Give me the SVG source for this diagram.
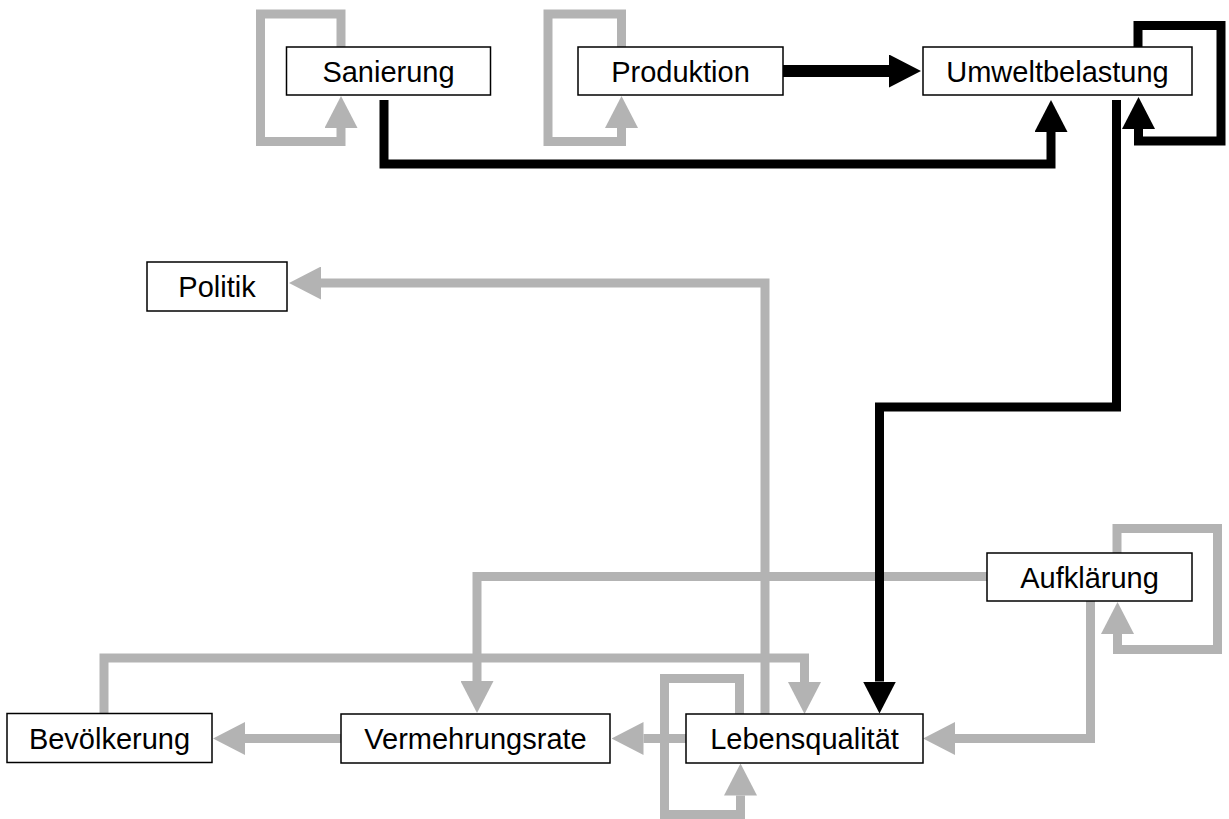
<svg xmlns="http://www.w3.org/2000/svg" width="1229" height="819" viewBox="0 0 1229 819">
  <style>
    .box { fill: #ffffff; stroke: #000000; stroke-width: 1.5; }
    .label { font-family: "Liberation Sans", Arial, sans-serif; font-size: 29px; fill: #000000; text-anchor: middle; }
    .gray { fill: none; stroke: #b3b3b3; stroke-width: 9; stroke-linejoin: miter; stroke-linecap: butt; }
    .black { fill: none; stroke: #000000; stroke-width: 9; stroke-linejoin: miter; stroke-linecap: butt; }
    .thick { stroke-width: 12; }
  </style>
  <defs>
    <marker id="arrow-gray" viewBox="0 0 32 33" markerWidth="32" markerHeight="33" refX="0" refY="16.5" orient="auto" markerUnits="userSpaceOnUse">
      <path d="M0,0 L32,16.5 L0,33 Z" fill="#b3b3b3"/>
    </marker>
    <marker id="arrow-black" viewBox="0 0 32 33" markerWidth="32" markerHeight="33" refX="0" refY="16.5" orient="auto" markerUnits="userSpaceOnUse">
      <path d="M0,0 L32,16.5 L0,33 Z" fill="#000000"/>
    </marker>
  </defs>
  <rect width="1229" height="819" fill="#ffffff"/>

  <g id="connectors">
    <!-- gray links -->
    <path class="gray" d="M341,47 V14 H260.5 V141.5 H341 V128" marker-end="url(#arrow-gray)"/>
    <path class="gray" d="M621.5,47 V14 H548 V141.5 H621.5 V128" marker-end="url(#arrow-gray)"/>
    <path class="gray" d="M765,714 V283 H321" marker-end="url(#arrow-gray)"/>
    <path class="gray" d="M987,576.5 H477 V681" marker-end="url(#arrow-gray)"/>
    <path class="gray" d="M104,713 V658 H804.5 V682" marker-end="url(#arrow-gray)"/>
    <path class="gray" d="M739.5,714 V678.5 H664.5 V814.5 H740.5 V795.5" marker-end="url(#arrow-gray)"/>
    <path class="gray" d="M686,738.5 H643.5" marker-end="url(#arrow-gray)"/>
    <path class="gray" d="M341,738.5 H245" marker-end="url(#arrow-gray)"/>
    <path class="gray" d="M1090.5,601 V738.5 H955" marker-end="url(#arrow-gray)"/>
    <path class="gray" d="M1117,553 V528.5 H1217.5 V649.5 H1117.5 V634" marker-end="url(#arrow-gray)"/>
    <!-- black links -->
    <path class="black" d="M384,100 V164 H1051 V132" marker-end="url(#arrow-black)"/>
    <path class="black thick" d="M783,71 H889" marker-end="url(#arrow-black)"/>
    <path class="black" d="M1138,47 V25.5 H1221 V141 H1138.5 V129" marker-end="url(#arrow-black)"/>
    <path class="black" d="M1116.5,100 V407 H879.5 V681.5" marker-end="url(#arrow-black)"/>
  </g>

  <g id="sanierung">
    <rect class="box" x="286.5" y="47" width="204" height="48"/>
    <text class="label" x="388.5" y="81.5">Sanierung</text>
  </g>
  <g id="produktion">
    <rect class="box" x="578" y="47" width="205" height="48"/>
    <text class="label" x="680.5" y="81.5">Produktion</text>
  </g>
  <g id="umweltbelastung">
    <rect class="box" x="923" y="47" width="269" height="48"/>
    <text class="label" x="1057.5" y="81.5">Umweltbelastung</text>
  </g>
  <g id="politik">
    <rect class="box" x="147" y="262" width="140" height="49"/>
    <text class="label" x="217" y="297">Politik</text>
  </g>
  <g id="aufklaerung">
    <rect class="box" x="987" y="553" width="205" height="48"/>
    <text class="label" x="1089.5" y="587.5">Aufklärung</text>
  </g>
  <g id="bevoelkerung">
    <rect class="box" x="7" y="713.5" width="205" height="49"/>
    <text class="label" x="109.5" y="748.5">Bevölkerung</text>
  </g>
  <g id="vermehrungsrate">
    <rect class="box" x="341" y="714" width="269" height="49"/>
    <text class="label" x="475.5" y="749">Vermehrungsrate</text>
  </g>
  <g id="lebensqualitaet">
    <rect class="box" x="686" y="714" width="237" height="49"/>
    <text class="label" x="804.5" y="749">Lebensqualität</text>
  </g>
</svg>
